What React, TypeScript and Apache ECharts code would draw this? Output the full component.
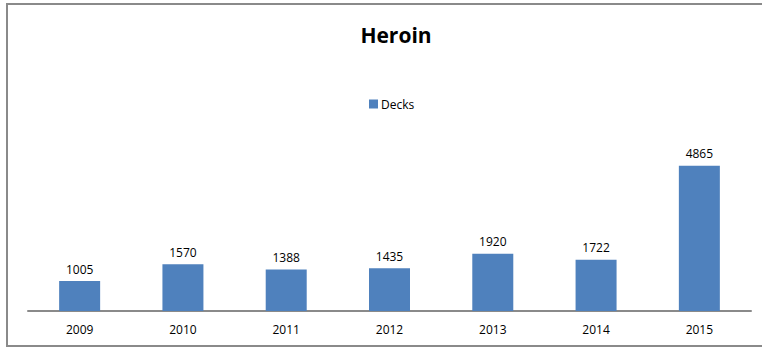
import React, { useEffect, useRef } from "react";
import * as echarts from "echarts";

const categories = ["2009", "2010", "2011", "2012", "2013", "2014", "2015"];
const decks = [1005, 1570, 1388, 1435, 1920, 1722, 4865];
const seriesName = "Decks";
const titleText = "Heroin";

export default function App() {
  const ref = useRef<HTMLDivElement>(null);
  useEffect(() => {
    if (!ref.current) return;
    const chart = echarts.init(ref.current, undefined, { renderer: "svg" });
    chart.setOption({
      animation: false,
      backgroundColor: "#ffffff",
      textStyle: { fontFamily: "Open Sans" },
      title: {
        text: titleText,
        left: 391,
        textAlign: "center",
        top: 19,
        textStyle: { fontSize: 21, fontWeight: "bold", color: "#000", fontFamily: "Open Sans" },
      },
      legend: {
        data: [seriesName],
        left: 364,
        top: 93,
        itemWidth: 9,
        itemHeight: 9,
        itemGap: 4,
        icon: "rect",
        textStyle: { fontSize: 12, color: "#000", padding: [0, 0, 0, -2] },
      },
      graphic: [
        {
          type: "polyline",
          shape: { points: [[800, 4], [7, 4], [7, 346], [800, 346]] },
          style: { fill: "none", stroke: "#8a8a8a", lineWidth: 2 },
          silent: true,
        },
      ],
      grid: { left: 28, right: 11, top: 132, bottom: 37, containLabel: false },
      xAxis: {
        type: "category",
        data: categories,
        axisLine: { lineStyle: { color: "#8a8a8a", width: 2 } },
        axisTick: { show: false },
        axisLabel: { color: "#000", fontSize: 12, margin: 12 },
      },
      yAxis: {
        type: "value",
        min: 0,
        max: 6000,
        show: false,
        splitLine: { show: false },
      },
      series: [
        {
          name: seriesName,
          type: "bar",
          data: decks,
          barWidth: 41,
          itemStyle: { color: "#4F81BD" },
          label: { show: true, position: "top", distance: 6, color: "#000", fontSize: 12 },
        },
      ],
    });
    return () => chart.dispose();
  }, []);
  return (
    <div
      ref={ref}
      style={{ position: "fixed", left: 0, top: 0, width: 762, height: 348 }}
    />
  );
}
